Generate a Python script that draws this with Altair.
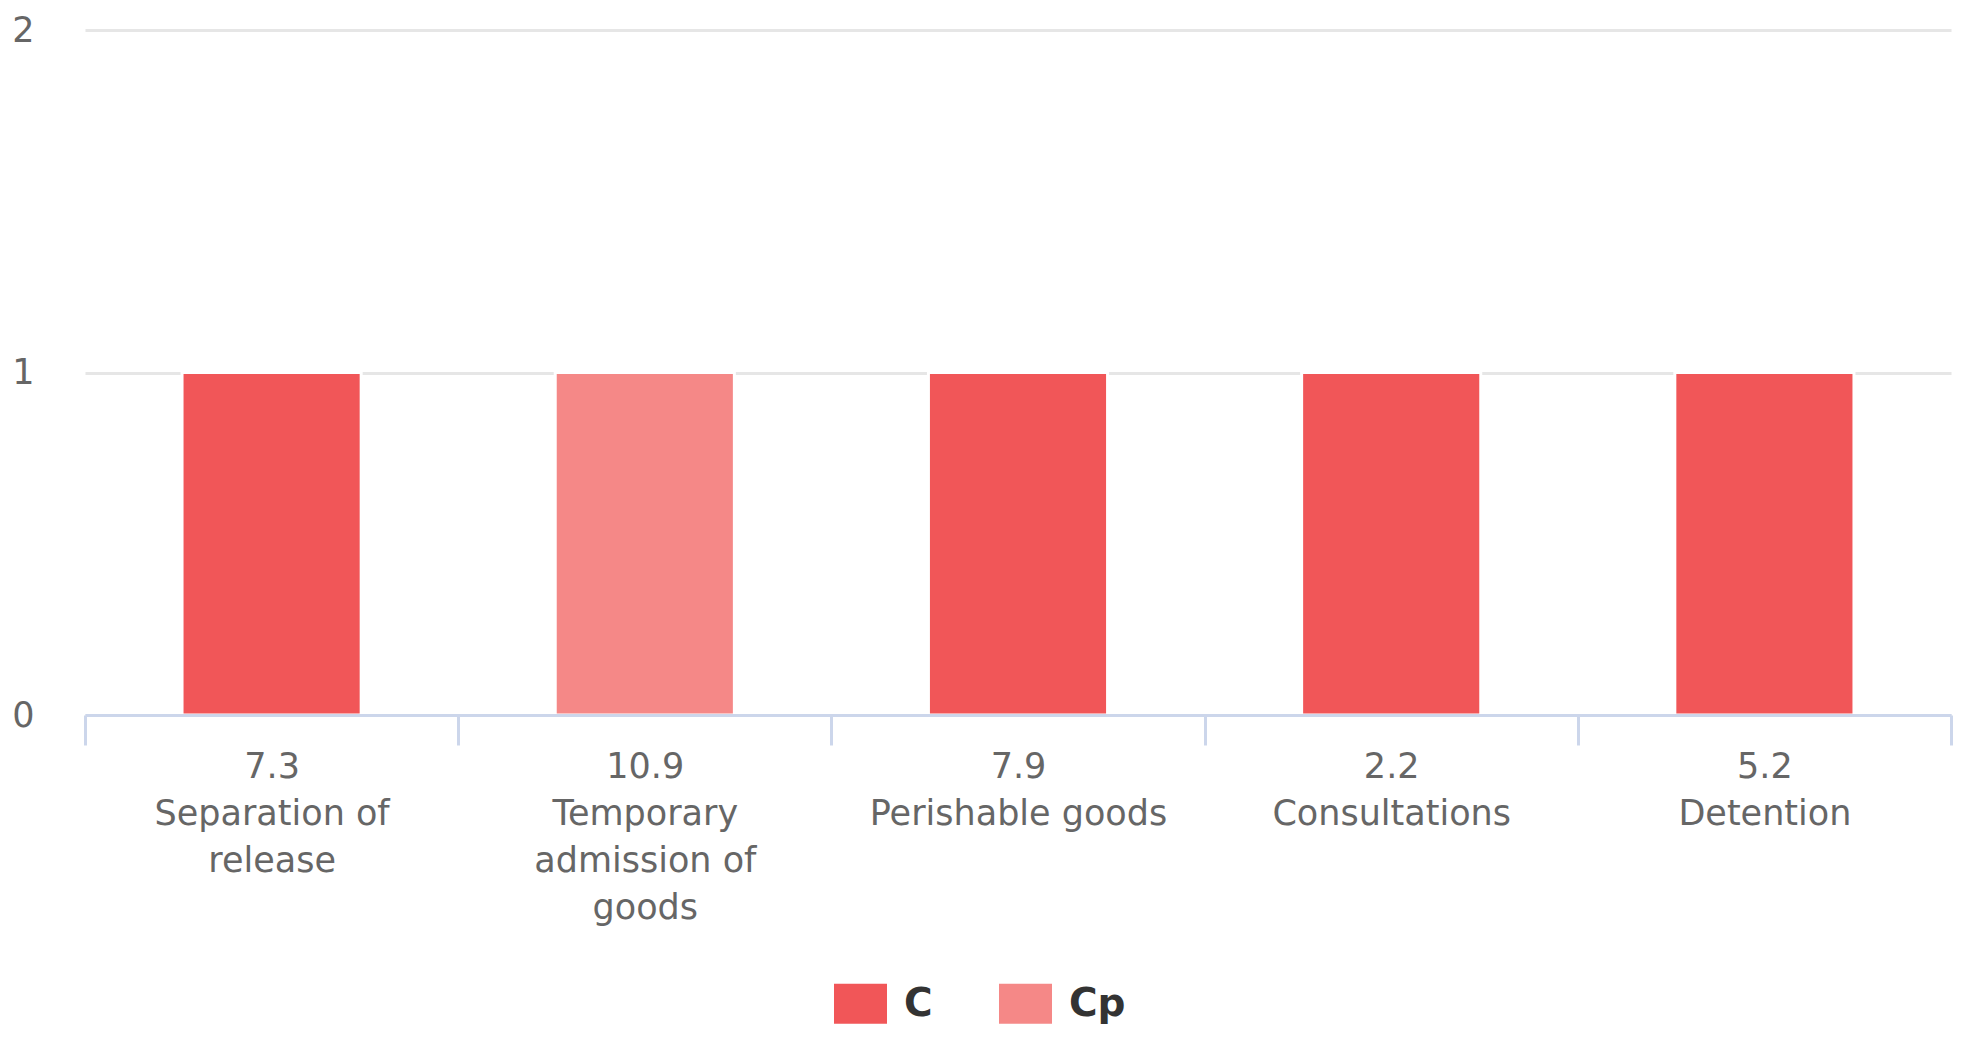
import textwrap
import altair as alt
import pandas as pd

categories = ["Separation of release", "Temporary admission of goods",
              "Perishable goods", "Consultations", "Detention"]
scores = ["7.3", "10.9", "7.9", "2.2", "5.2"]
counts = [1, 1, 1, 1, 1]
series = ["C", "Cp", "C", "C", "C"]
series_order = ["C", "Cp"]
series_colors = ["#F15658", "#F58887"]

labels = [s + "|" + "|".join(textwrap.wrap(c, 16)) for s, c in zip(scores, categories)]
df = pd.DataFrame({"label": labels, "category": categories, "count": counts, "series": series})

FONT = "DejaVu Sans"

chart = alt.Chart(df).mark_bar(
    width=alt.RelativeBandSize(0.48), stroke="#ffffff", strokeWidth=3
).encode(
    x=alt.X("label:N", sort=None, title=None,
            scale=alt.Scale(paddingInner=0, paddingOuter=0),
            axis=alt.Axis(labelExpr="split(datum.label, '|')", labelAngle=0,
                          labelFont=FONT, labelFontSize=35, labelColor="#666666",
                          labelLineHeight=47, labelPadding=4, labelLimit=0,
                          tickBand="extent", tickSize=30, tickWidth=3, tickColor="#ccd6eb",
                          domainColor="#ccd6eb", domainWidth=3, grid=False, zindex=1,
                          labelBaseline="top")),
    y=alt.Y("count:Q", title=None,
            scale=alt.Scale(domain=[0, 2], nice=False, zero=True),
            axis=alt.Axis(tickCount=2, labelOverlap=False, ticks=False, domain=False,
                          gridColor="#e6e6e6", gridWidth=3,
                          labelFont=FONT, labelFontSize=35, labelColor="#666666",
                          labelPadding=51)),
    color=alt.Color("series:N", title=None,
                    scale=alt.Scale(domain=series_order, range=series_colors),
                    legend=alt.Legend(orient="none", legendX=749, legendY=947,
                                      direction="horizontal", padding=0,
                                      symbolType="M-1,-0.755H1V0.755H-1Z", symbolSize=2809,
                                      symbolStrokeWidth=0, symbolOpacity=1,
                                      labelFont=FONT, labelFontSize=39, labelFontWeight="bold",
                                      labelColor="#333333", labelOffset=17, columnPadding=66)),
).properties(
    width=1866, height=685,
    autosize=alt.AutoSizeParams(type="none"),
    padding={"left": 77, "top": 22, "right": 5, "bottom": 316},
).configure_view(stroke=None)

chart.save("out.html", embed_options={"renderer": "svg", "actions": False})
